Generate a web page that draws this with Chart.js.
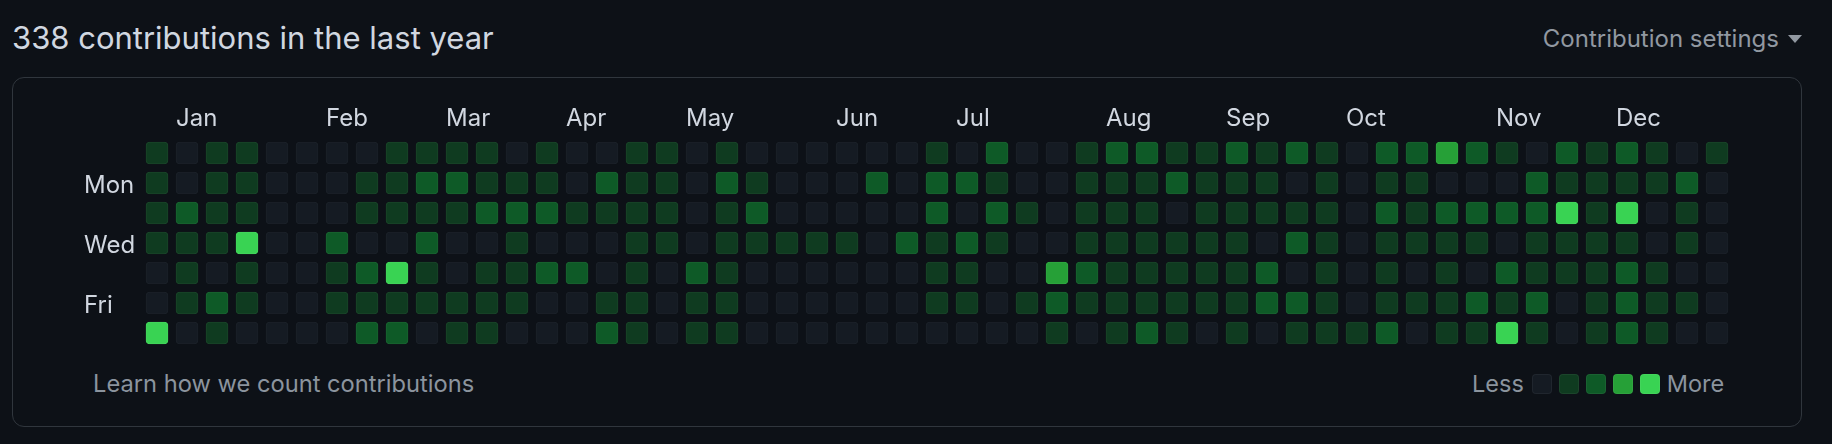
<!DOCTYPE html>
<html>
<head>
<meta charset="utf-8">
<title>Contributions</title>
<script src="https://cdn.jsdelivr.net/npm/chart.js@4.4.1/dist/chart.umd.min.js"></script>
<style>
  body { margin: 0; background: #0d1117; font-family: Inter, 'Noto Sans', sans-serif; }
  #page { position: relative; width: 1832px; height: 444px; overflow: hidden; }
  .title { position: absolute; left: 12px; top: 22px; font-size: 31px; line-height: 31px; color: #d1d7e0; white-space: nowrap; }
  .settings { position: absolute; right: 30px; top: 27px; font-size: 24px; line-height: 24px; color: #9198a1; white-space: nowrap; }
  .settings .caret { display: inline-block; margin-left: 9px; width: 0; height: 0; vertical-align: 4px;
    border-left: 7px solid transparent; border-right: 7px solid transparent; border-top: 8px solid #9198a1; }
  .box { position: absolute; left: 12px; top: 77px; width: 1788px; height: 348px; border: 1px solid #30363d; border-radius: 12px; }
  .learn { position: absolute; left: 93px; top: 372px; font-size: 23.7px; line-height: 24px; color: #8b949e; white-space: nowrap; }
  .legend { position: absolute; left: 1472px; top: 372px; font-size: 23.5px; line-height: 24px; color: #8b949e; display: flex; align-items: center; white-space: nowrap; }
  .legend .sq { width: 20px; height: 20px; border-radius: 4px; margin-right: 7px; box-sizing: border-box; border: 1px solid rgba(255,255,255,0.05); }
  .legend .less { margin-right: 8px; }
  #chartWrap { position: absolute; left: 0; top: 0; width: 1832px; height: 444px; }
</style>
</head>
<body>
<div id="page">
  <div class="title">338 contributions in the last year</div>
  <div class="settings">Contribution settings<span class="caret"></span></div>
  <div class="box"></div>
  <div class="learn">Learn how we count contributions</div>
  <div class="legend" id="legend"><span class="less">Less</span></div>
  <div id="chartWrap"><canvas id="calendarChart"></canvas></div>
</div>
<script>
// Contribution level (0-4) per week column, one array per weekday
const sun = [1,0,1,1,0,0,0,0,1,1,1, 1,0,1,0,0,1,1,0,1,0,0,0,0, 0,0,1,0,2,0,0,1,2,2,1,1,2,1, 2,1,0,2,2,3,2,1,0,2,1,2,1,0,1];
const mon = [1,0,1,1,0,0,0,1,1,2,2, 1,1,1,0,2,1,1,0,2,1,0,0,0, 2,0,2,2,1,0,0,1,1,1,2,1,1,1, 0,1,0,1,1,0,0,0,2,1,1,1,1,2,0];
const tue = [1,2,1,1,0,0,0,1,1,1,1, 2,2,2,1,1,1,1,0,1,2,0,0,0, 0,0,2,0,2,1,0,1,1,1,0,1,1,1, 1,1,0,2,1,2,2,2,2,4,1,4,0,1,0];
const wed = [1,1,1,4,0,0,2,0,0,2,0, 0,1,0,0,0,1,1,0,1,1,1,1,1, 0,2,1,2,1,0,0,1,1,1,1,1,1,0, 2,1,0,1,1,1,1,0,1,1,1,1,0,1,0];
const thu = [0,1,0,1,0,0,1,2,4,1,0, 1,1,2,2,0,1,0,2,1,0,0,0,0, 0,0,1,1,0,0,3,2,1,1,1,1,1,2, 0,1,0,1,0,1,0,2,1,1,1,2,1,0,0];
const fri = [0,1,2,1,0,0,1,1,1,1,1, 1,1,0,0,1,1,0,1,1,0,0,0,0, 0,0,1,1,0,1,2,1,1,1,1,1,1,2, 2,1,0,1,1,1,2,1,2,0,1,2,1,1,0];
const sat = [4,0,1,0,0,0,0,2,2,0,1, 1,0,0,0,2,1,0,1,1,0,0,0,0, 0,0,0,0,0,0,1,0,1,2,1,0,1,0, 1,1,1,2,0,1,1,4,1,0,1,2,1,0,0];

const dayLabels = ['', 'Mon', '', 'Wed', '', 'Fri', ''];
const monthLabels = ['Jan', 'Feb', 'Mar', 'Apr', 'May', 'Jun', 'Jul', 'Aug', 'Sep', 'Oct', 'Nov', 'Dec'];
const monthStartWeek = [1, 6, 10, 14, 18, 23, 27, 32, 36, 40, 45, 49];

// Theme
const levelColors = ['#151b23', '#0f3b20', '#0e5a27', '#26a037', '#39d353'];
const levelBorders = ['#1b2129', '#1a4529', '#1a6331', '#31a842', '#45d65d'];
const labelColor = '#d1d7e0';
const labelFont = { family: "Inter, 'Noto Sans', sans-serif", size: 24 };
const CELL = 22, PITCH = 30;

// legend squares
const legendEl = document.getElementById('legend');
levelColors.forEach(c => {
    const s = document.createElement('span');
    s.className = 'sq';
    s.style.background = c;
    legendEl.appendChild(s);
});
const more = document.createElement('span');
more.textContent = 'More';
legendEl.appendChild(more);

const days = [sun, mon, tue, wed, thu, fri, sat];
const weeks = sun.map((_, i) => i);
const half = CELL / PITCH / 2;

const calendarCtx = document.getElementById('calendarChart').getContext('2d');
new Chart(calendarCtx, {
    type: 'bar',
    data: {
        labels: weeks,
        datasets: days.map((levels, d) => ({
            data: levels.map(() => [d - half, d + half]),
            backgroundColor: levels.map(l => levelColors[l]),
            borderColor: levels.map(l => levelBorders[l]),
            borderWidth: 1,
            borderRadius: 4,
            borderSkipped: false,
            barThickness: CELL,
            grouped: false
        }))
    },
    options: {
        responsive: true,
        maintainAspectRatio: false,
        animation: false,
        events: [],
        layout: { padding: { left: 84, top: 80, right: 100, bottom: 96 } },
        plugins: { legend: { display: false }, tooltip: { enabled: false } },
        scales: {
            x: {
                type: 'category',
                position: 'top',
                offset: true,
                grid: { display: false },
                border: { display: false },
                ticks: {
                    autoSkip: false,
                    maxRotation: 0,
                    align: 'start',
                    labelOffset: -CELL / 2,
                    padding: -3,
                    color: labelColor,
                    font: labelFont,
                    callback: (v, i) => {
                        const m = monthStartWeek.indexOf(i);
                        return m >= 0 ? monthLabels[m] : '';
                    }
                },
                afterFit: (s) => { s.height = 58; }
            },
            y: {
                type: 'linear',
                min: -0.5,
                max: 6.5,
                reverse: true,
                grid: { display: false },
                border: { display: false },
                afterBuildTicks: (s) => { s.ticks = dayLabels.map((_, i) => ({ value: i })); },
                ticks: {
                    crossAlign: 'far',
                    padding: 0,
                    labelOffset: 3,
                    color: labelColor,
                    font: labelFont,
                    callback: (v, i) => dayLabels[i]
                },
                afterFit: (s) => { s.width = 58; }
            }
        }
    }
});
</script>
</body>
</html>
